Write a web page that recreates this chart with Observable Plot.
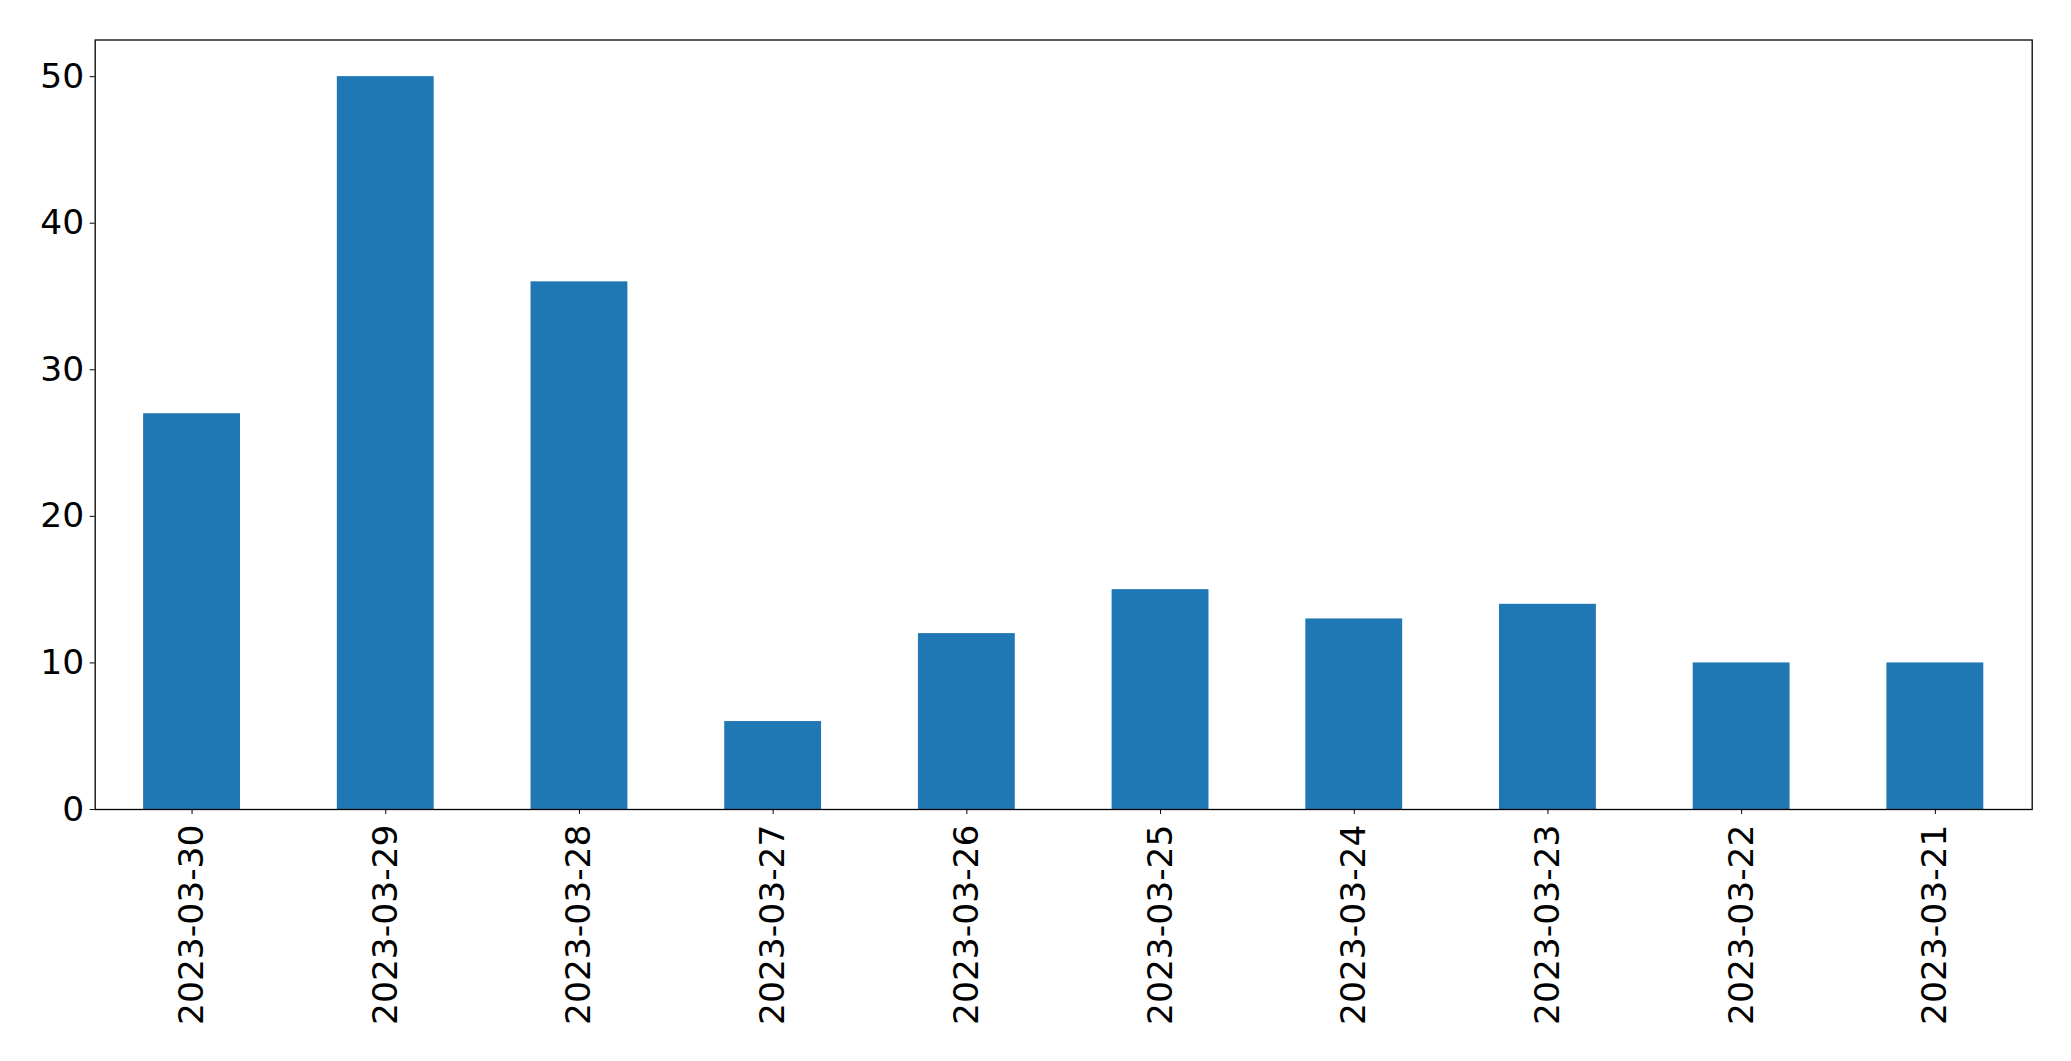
<!DOCTYPE html>
<html><head><meta charset="utf-8">
<script src="https://cdn.jsdelivr.net/npm/d3@7"></script>
<script src="https://cdn.jsdelivr.net/npm/@observablehq/plot@0.6"></script>
<style>body{margin:0;background:#fff;overflow:hidden;}</style>
</head><body><div id="chart"></div>
<script>
const dates = ["2023-03-30","2023-03-29","2023-03-28","2023-03-27","2023-03-26","2023-03-25","2023-03-24","2023-03-23","2023-03-22","2023-03-21"];
const counts = [27, 50, 36, 6, 12, 15, 13, 14, 10, 10];
const yTicks = [0, 10, 20, 30, 40, 50];
const data = dates.map((d, i) => ({date: d, count: counts[i]}));

const chart = Plot.plot({
  width: 2071,
  height: 1061,
  marginLeft: 94.7,
  marginRight: 39.3,
  marginTop: 39.5,
  marginBottom: 252,
  style: {fontFamily: "'DejaVu Sans', sans-serif", fontSize: "34.5px", background: "white", color: "black"},
  x: {domain: dates, paddingInner: 0.5, paddingOuter: 0.25, align: 0.5, round: false, label: null, tickRotate: -90, tickSize: 5, tickPadding: 10},
  y: {domain: [0, 52.5], ticks: yTicks, label: null, tickSize: 5, tickPadding: 6, tickFormat: d => String(d)},
  marks: [
    Plot.barY(data, {x: "date", y: "count", fill: "#1f77b4"}),
    Plot.frame({stroke: "black", strokeWidth: 1.3})
  ]
});
document.getElementById("chart").appendChild(chart);
</script>
</body></html>
